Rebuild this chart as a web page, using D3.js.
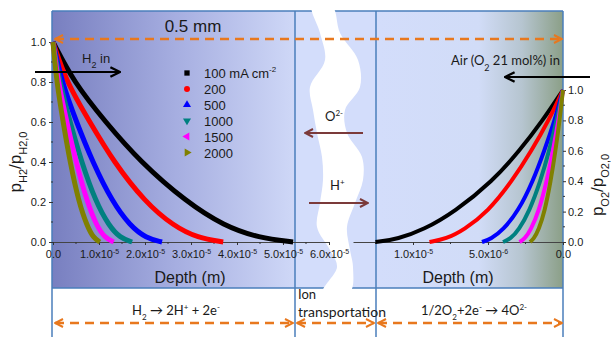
<!DOCTYPE html>
<html>
<head>
<meta charset="utf-8">
<script src="https://cdn.jsdelivr.net/npm/d3@7"></script>
<style>
  body { margin: 0; background: #fff; }
  svg { display: block; }
  text { font-family: "Liberation Sans", Arial, sans-serif; fill: #1a1a1a; }
  .cal { font-family: Lato, "Open Sans", sans-serif; }
</style>
</head>
<body>
<div id="chart"></div>
<script>

////////////////////////////////////////////////////////////////////////
// Data

let currentLabels = ["100", "200", "500", "1000", "1500", "2000"];
let seriesColors  = ["#000000", "#ff0000", "#0000ff", "#008080", "#ff00ff", "#808000"];

// pressure ratio levels shared by every profile
let pLevels = [1, 0.8, 0.6, 0.4, 0.2, 0.08, 0.02, 0];

// anode side, depth (m) at which p_H2/p_H2,0 reaches each level
let h2Depth100  = [0, 0.45e-5, 1.14e-5, 1.90e-5, 2.90e-5, 3.72e-5, 4.48e-5, 5.22e-5];
let h2Depth200  = [0, 0.29e-5, 0.80e-5, 1.32e-5, 2.00e-5, 2.62e-5, 3.15e-5, 3.70e-5];
let h2Depth500  = [0, 0.19e-5, 0.51e-5, 0.86e-5, 1.29e-5, 1.68e-5, 2.02e-5, 2.37e-5];
let h2Depth1000 = [0, 0.14e-5, 0.37e-5, 0.62e-5, 0.93e-5, 1.22e-5, 1.46e-5, 1.72e-5];
let h2Depth1500 = [0, 0.11e-5, 0.30e-5, 0.50e-5, 0.74e-5, 0.95e-5, 1.13e-5, 1.32e-5];
let h2Depth2000 = [0, 0.08e-5, 0.22e-5, 0.37e-5, 0.56e-5, 0.74e-5, 0.88e-5, 1.02e-5];

// cathode side, depth (m) at which p_O2/p_O2,0 reaches each level
let o2Depth100  = [0, 1.35e-6, 2.90e-6, 4.70e-6, 7.20e-6, 9.30e-6, 11.0e-6, 12.5e-6];
let o2Depth200  = [0, 0.95e-6, 2.10e-6, 3.40e-6, 5.00e-6, 6.60e-6, 7.80e-6, 8.90e-6];
let o2Depth500  = [0, 0.55e-6, 1.25e-6, 2.00e-6, 3.00e-6, 4.00e-6, 4.80e-6, 5.40e-6];
let o2Depth1000 = [0, 0.42e-6, 0.92e-6, 1.50e-6, 2.25e-6, 2.95e-6, 3.50e-6, 4.00e-6];
let o2Depth1500 = [0, 0.30e-6, 0.67e-6, 1.08e-6, 1.62e-6, 2.15e-6, 2.55e-6, 2.90e-6];
let o2Depth2000 = [0, 0.23e-6, 0.50e-6, 0.82e-6, 1.22e-6, 1.62e-6, 1.95e-6, 2.20e-6];

let h2Depths = [h2Depth100, h2Depth200, h2Depth500, h2Depth1000, h2Depth1500, h2Depth2000];
let o2Depths = [o2Depth100, o2Depth200, o2Depth500, o2Depth1000, o2Depth1500, o2Depth2000];

// tick labels
let pTicks = [0, 0.2, 0.4, 0.6, 0.8, 1.0];
let h2DepthTicks = [0, 1e-5, 2e-5, 3e-5, 4e-5, 5e-5, 6e-5];
let h2DepthTickLabels = [["0.0", ""], ["1.0x10", "-5"], ["2.0x10", "-5"], ["3.0x10", "-5"],
                         ["4.0x10", "-5"], ["5.0x10", "-5"], ["6.0x10", "-5"]];
let o2DepthTicks = [0, 5e-6, 1e-5];
let o2DepthTickLabels = [["0.0", ""], ["5.0x10", "-6"], ["1.0x10", "-5"]];

// outline of the white crack in the electrolyte (pixels)
let crackLeft  = [[312, 6], [320, 33], [325, 60], [310, 87], [313, 110], [317, 133], [322, 157],
                  [323, 180], [320, 203], [317, 227], [330, 250], [337, 267], [323, 292]];
let crackRight = [[332, 6], [340, 33], [358, 60], [360, 87], [345, 110], [347, 133], [362, 157],
                  [363, 180], [355, 203], [347, 227], [350, 250], [353, 267], [350, 292]];


////////////////////////////////////////////////////////////////////////
// Layout

let width = 611, height = 337;
let panelTop = 11, panelBottom = 288;
let xLeftEdge = 52, xMidLeft = 295, xMidRight = 376, xRightEdge = 563;
let blueLine = "#4a7ebb", orange = "#e8781e", brown = "#7b3a3a";

let xH2 = d3.scaleLinear().domain([0, 6e-5]).range([53, 329]);
let yH2 = d3.scaleLinear().domain([0, 1]).range([242, 42]);
let xO2 = d3.scaleLinear().domain([0, 1.4e-5]).range([563, 353]);
let yO2 = d3.scaleLinear().domain([0, 1]).range([242, 90]);

let svg = d3.select("#chart").append("svg")
    .attr("width", width)
    .attr("height", height);

let defs = svg.append("defs");

function addGradient(id, stops) {
  let g = defs.append("linearGradient").attr("id", id)
    .attr("x1", "0%").attr("x2", "100%").attr("y1", "0%").attr("y2", "0%");
  stops.forEach(function(s) {
    g.append("stop").attr("offset", s[0]).attr("stop-color", s[1]);
  });
}
addGradient("anodeGrad", [["0%", "#787fc0"], ["50%", "#a5ade0"], ["100%", "#cfd8f7"]]);
addGradient("cathodeGrad", [["0%", "#d3ddfb"], ["55%", "#d1dcf7"], ["78%", "#b6c5d0"], ["100%", "#8b9f87"]]);

function addChevron(id, color, size) {
  defs.append("marker").attr("id", id)
    .attr("viewBox", "0 0 10 10")
    .attr("refX", 9).attr("refY", 5)
    .attr("markerWidth", size).attr("markerHeight", size)
    .attr("markerUnits", "userSpaceOnUse")
    .attr("orient", "auto-start-reverse")
    .append("path")
    .attr("d", "M1,1 L9,5 L1,9")
    .attr("fill", "none")
    .attr("stroke", color)
    .attr("stroke-width", 2);
}
addChevron("chevOrange", orange, 10);
addChevron("chevBlack", "#000", 12);
addChevron("chevBrown", brown, 10);


////////////////////////////////////////////////////////////////////////
// Background panels and crack

svg.append("rect").attr("x", xLeftEdge).attr("y", panelTop)
  .attr("width", xMidLeft - xLeftEdge).attr("height", panelBottom - panelTop)
  .attr("fill", "url(#anodeGrad)");
svg.append("rect").attr("x", xMidLeft).attr("y", panelTop)
  .attr("width", xMidRight - xMidLeft).attr("height", panelBottom - panelTop)
  .attr("fill", "#d3ddfb");
svg.append("rect").attr("x", xMidRight).attr("y", panelTop)
  .attr("width", xRightEdge - xMidRight).attr("height", panelBottom - panelTop)
  .attr("fill", "url(#cathodeGrad)");

[xLeftEdge, xMidLeft, xMidRight, xRightEdge].forEach(function(x) {
  svg.append("line").attr("x1", x).attr("x2", x).attr("y1", panelTop).attr("y2", height)
    .attr("stroke", blueLine).attr("stroke-width", 1.5);
});
[panelTop, panelBottom].forEach(function(y) {
  svg.append("line").attr("x1", xLeftEdge).attr("x2", xRightEdge).attr("y1", y).attr("y2", y)
    .attr("stroke", blueLine).attr("stroke-width", 1.5);
});

let crackPoints = crackLeft.concat(crackRight.slice().reverse());
svg.append("path")
  .attr("d", d3.line().curve(d3.curveCatmullRomClosed)(crackPoints))
  .attr("fill", "#ffffff");


////////////////////////////////////////////////////////////////////////
// Axes

function superscriptTicks(sel, labels) {
  sel.selectAll(".tick text").each(function(d, i) {
    let t = d3.select(this);
    t.text(labels[i][0]);
    if (labels[i][1]) {
      t.append("tspan").attr("dy", -4).attr("font-size", 7).text(labels[i][1]);
    }
  });
}

function minorTicks(g, values, x1, y1, x2, y2) {
  g.selectAll("line.minor").data(values).enter().append("line")
    .attr("class", "minor")
    .attr("x1", x1).attr("y1", y1).attr("x2", x2).attr("y2", y2)
    .attr("stroke", "#333");
}

let axisFont = function(g) {
  g.selectAll("text").attr("font-size", 11).attr("fill", "#1a1a1a")
    .attr("font-family", "Liberation Sans, Arial, sans-serif");
  g.selectAll(".tick line").attr("stroke", "#333");
};

// anode x axis
let gxH2 = svg.append("g").attr("transform", "translate(0,242)")
  .call(d3.axisBottom(xH2).tickValues(h2DepthTicks).tickSize(3).tickPadding(5).tickSizeOuter(0))
  .call(axisFont);
gxH2.select(".domain").attr("stroke", "#444");
superscriptTicks(gxH2, h2DepthTickLabels);
minorTicks(gxH2, [0.5e-5, 1.5e-5, 2.5e-5, 3.5e-5, 4.5e-5, 5.5e-5],
  function(d) { return xH2(d); }, 0, function(d) { return xH2(d); }, 2);

// anode y axis
let gyH2 = svg.append("g").attr("transform", "translate(53,0)")
  .call(d3.axisLeft(yH2).tickValues(pTicks).tickFormat(d3.format(".1f")).tickSize(4).tickPadding(3))
  .call(axisFont);
gyH2.select(".domain").remove();
minorTicks(gyH2, [0.1, 0.3, 0.5, 0.7, 0.9], 0, function(d) { return yH2(d); }, -2, function(d) { return yH2(d); });

// cathode x axis (depth runs right to left)
let gxO2 = svg.append("g").attr("transform", "translate(0,242)")
  .call(d3.axisBottom(xO2).tickValues(o2DepthTicks).tickSize(3).tickPadding(5).tickSizeOuter(0))
  .call(axisFont);
gxO2.select(".domain").attr("stroke", "#444");
superscriptTicks(gxO2, o2DepthTickLabels);
minorTicks(gxO2, [2.5e-6, 7.5e-6, 1.25e-5],
  function(d) { return xO2(d); }, 0, function(d) { return xO2(d); }, 2);

// cathode y axis
let gyO2 = svg.append("g").attr("transform", "translate(563,0)")
  .call(d3.axisRight(yO2).tickValues(pTicks).tickFormat(d3.format(".1f")).tickSize(3).tickPadding(2))
  .call(axisFont);
gyO2.select(".domain").remove();
minorTicks(gyO2, [0.1, 0.3, 0.5, 0.7, 0.9], 0, function(d) { return yO2(d); }, 2, function(d) { return yO2(d); });


////////////////////////////////////////////////////////////////////////
// Profiles

let h2Line = d3.line()
  .x(function(d) { return xH2(d[0]); })
  .y(function(d) { return yH2(d[1]); })
  .curve(d3.curveBasis);

let o2Line = d3.line()
  .x(function(d) { return xO2(d[0]); })
  .y(function(d) { return yO2(d[1]); })
  .curve(d3.curveBasis);

function pairs(depths) {
  return depths.map(function(d, i) { return [d, pLevels[i]]; });
}

svg.append("g").selectAll("path")
  .data(h2Depths)
  .enter().append("path")
  .attr("d", function(d) { return h2Line(pairs(d)); })
  .attr("fill", "none")
  .attr("stroke", function(d, i) { return seriesColors[i]; })
  .attr("stroke-width", 5);

svg.append("g").selectAll("path")
  .data(o2Depths)
  .enter().append("path")
  .attr("d", function(d) { return o2Line(pairs(d)); })
  .attr("fill", "none")
  .attr("stroke", function(d, i) { return seriesColors[i]; })
  .attr("stroke-width", 4);


////////////////////////////////////////////////////////////////////////
// Legend

let symbolTypes  = [d3.symbolSquare, d3.symbolCircle, d3.symbolTriangle,
                    d3.symbolTriangle, d3.symbolTriangle, d3.symbolTriangle];
let symbolAngles = [0, 0, 0, 180, -90, 90];

let legend = svg.append("g").selectAll("g")
  .data(currentLabels)
  .enter().append("g")
  .attr("transform", function(d, i) { return "translate(187," + (73 + i * 15.9) + ")"; });

legend.append("path")
  .attr("d", function(d, i) { return d3.symbol().type(symbolTypes[i]).size(28)(); })
  .attr("transform", function(d, i) { return "rotate(" + symbolAngles[i] + ")"; })
  .attr("fill", function(d, i) { return seriesColors[i]; });

let legendText = legend.append("text")
  .attr("x", 17).attr("y", 5)
  .attr("font-size", 13)
  .text(function(d, i) { return i === 0 ? d + " mA cm" : d; });
legendText.filter(function(d, i) { return i === 0; })
  .append("tspan").attr("dy", -6).attr("font-size", 8).text("-2");


////////////////////////////////////////////////////////////////////////
// Axis titles and annotations

function subText(sel, parts, size, subSize, supSize) {
  parts.forEach(function(p) {
    let t = sel.append("tspan").text(p[0]);
    if (p[1] === "sub") t.attr("font-size", subSize).attr("baseline-shift", "sub");
    else if (p[1] === "sup") t.attr("font-size", supSize).attr("baseline-shift", "super");
  });
}

subText(svg.append("text").attr("transform", "translate(21,162) rotate(-90)")
  .attr("text-anchor", "middle").attr("font-size", 17),
  [["p"], ["H2", "sub"], ["/p"], ["H2,0", "sub"]], 17, 11, 11);

subText(svg.append("text").attr("transform", "translate(603,185) rotate(-90)")
  .attr("text-anchor", "middle").attr("font-size", 17),
  [["p"], ["O2", "sub"], ["/p"], ["O2,0", "sub"]], 17, 11, 11);

svg.append("text").attr("x", 190).attr("y", 283).attr("text-anchor", "middle")
  .attr("font-size", 16).text("Depth (m)");
svg.append("text").attr("x", 458).attr("y", 283).attr("text-anchor", "middle")
  .attr("font-size", 16).text("Depth (m)");

svg.append("text").attr("x", 193).attr("y", 32).attr("text-anchor", "middle")
  .attr("font-size", 17).text("0.5 mm");

// dashed orange extents
function dashedArrow(x1, x2, y) {
  svg.append("line").attr("x1", x1).attr("x2", x2).attr("y1", y).attr("y2", y)
    .attr("stroke", orange).attr("stroke-width", 2.5).attr("stroke-dasharray", "9,6")
    .attr("marker-start", "url(#chevOrange)").attr("marker-end", "url(#chevOrange)");
}
dashedArrow(55, 562, 39);
dashedArrow(55, 293, 323);
dashedArrow(297, 374, 323);
dashedArrow(378, 562, 323);

// gas inlets
subText(svg.append("text").attr("x", 82).attr("y", 63).attr("font-size", 13),
  [["H"], ["2", "sub"], [" in"]], 13, 9, 9);
svg.append("line").attr("x1", 35).attr("x2", 120).attr("y1", 72).attr("y2", 72)
  .attr("stroke", "#000").attr("stroke-width", 2).attr("marker-end", "url(#chevBlack)");

subText(svg.append("text").attr("class", "cal").attr("x", 560).attr("y", 65)
  .attr("text-anchor", "end").attr("font-size", 13),
  [["Air (O"], ["2", "sub"], [" 21 mol%) in"]], 13, 9, 9);
svg.append("line").attr("x1", 590).attr("x2", 505).attr("y1", 77).attr("y2", 77)
  .attr("stroke", "#000").attr("stroke-width", 2).attr("marker-end", "url(#chevBlack)");

// ions through the electrolyte
subText(svg.append("text").attr("class", "cal").attr("x", 325).attr("y", 121).attr("font-size", 13),
  [["O"], ["2-", "sup"]], 13, 8, 8);
svg.append("line").attr("x1", 363).attr("x2", 305).attr("y1", 133).attr("y2", 133)
  .attr("stroke", brown).attr("stroke-width", 2).attr("marker-end", "url(#chevBrown)");

subText(svg.append("text").attr("class", "cal").attr("x", 330).attr("y", 190).attr("font-size", 13),
  [["H"], ["+", "sup"]], 13, 8, 8);
svg.append("line").attr("x1", 309).attr("x2", 368).attr("y1", 203).attr("y2", 203)
  .attr("stroke", brown).attr("stroke-width", 2).attr("marker-end", "url(#chevBrown)");

// reactions
subText(svg.append("text").attr("class", "cal").attr("x", 176).attr("y", 315)
  .attr("text-anchor", "middle").attr("font-size", 13),
  [["H"], ["2", "sub"], [" \u2192 2H"], ["+", "sup"], [" + 2e"], ["-", "sup"]], 13, 8, 8);

svg.append("text").attr("class", "cal").attr("x", 298).attr("y", 299)
  .attr("font-size", 13).text("Ion");
svg.append("text").attr("class", "cal").attr("x", 298).attr("y", 317)
  .attr("font-size", 14).text("transportation");

subText(svg.append("text").attr("class", "cal").attr("x", 474).attr("y", 315)
  .attr("text-anchor", "middle").attr("font-size", 13),
  [["1/2O"], ["2", "sub"], ["+2e"], ["-", "sup"], [" \u2192 4O"], ["2-", "sup"]], 13, 8, 8);

</script>
</body>
</html>
